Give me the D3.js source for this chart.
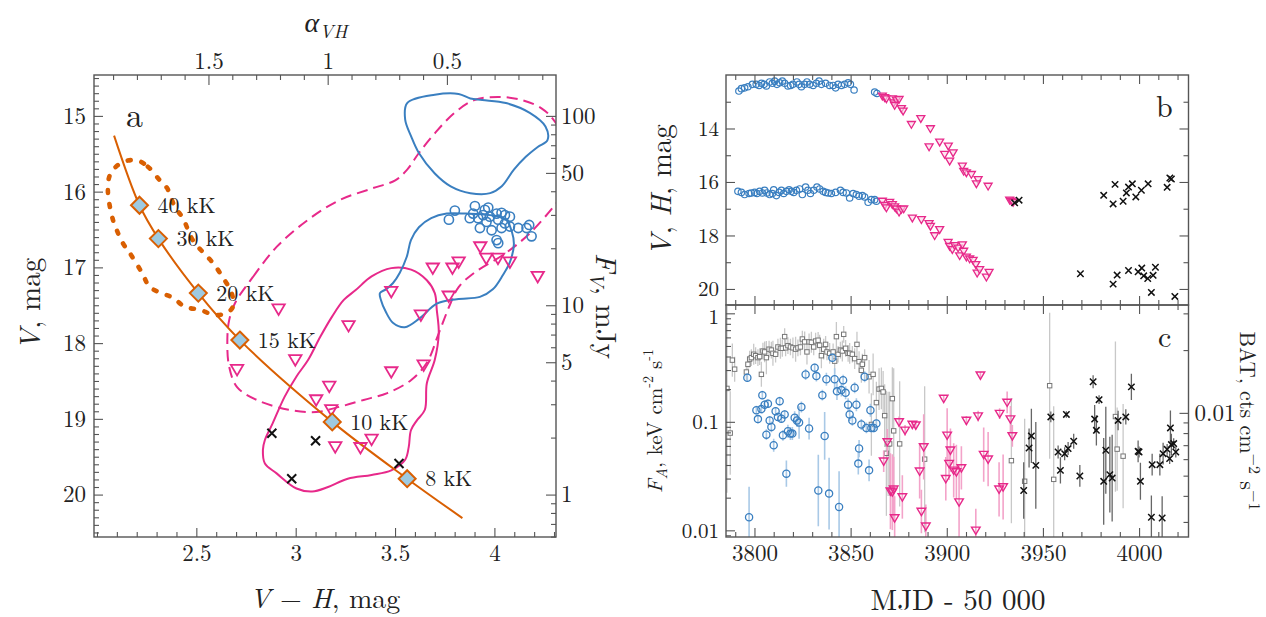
<!DOCTYPE html>
<html>
<head>
<meta charset="utf-8">
<script src="https://cdn.jsdelivr.net/npm/d3@7"></script>
<style>
  body { margin: 0; background: #fff; }
  svg text { font-family: "Latin Modern Roman", "CMU Serif", "Liberation Serif", serif; fill: #222; }
</style>
</head>
<body>
<svg id="fig" width="1266" height="617"></svg>
<script>
// ---------------- panel a : colour-magnitude diagram ----------------
var tempLabels = ["40 kK", "30 kK", "20 kK", "15 kK", "10 kK", "8 kK"];
var tempPoints = [[2.214,16.18],[2.309,16.62],[2.51,17.34],[2.719,17.96],[3.184,19.04],[3.561,19.79]];
var trackLine = [[2.086,15.26],[2.214,16.18],[2.309,16.62],[2.51,17.34],[2.719,17.96],[3.184,19.04],[3.561,19.79],[3.839,20.31]];

var ellipseDotted = [[2.206,15.59],[2.256,15.67],[2.316,15.85],[2.352,15.95],[2.392,16.20],[2.432,16.35],[2.482,16.64],
  [2.533,16.80],[2.583,16.94],[2.633,17.13],[2.678,17.34],[2.684,17.52],[2.653,17.60],[2.593,17.63],[2.518,17.56],
  [2.442,17.52],[2.382,17.40],[2.326,17.34],[2.266,17.26],[2.226,17.07],[2.165,16.81],[2.130,16.68],[2.100,16.51],
  [2.080,16.37],[2.055,16.00],[2.065,15.78],[2.105,15.65],[2.155,15.59]];

var contourDashed = [[2.695,17.47],[2.784,17.13],[2.904,16.73],[3.063,16.37],[3.222,16.11],[3.382,15.96],[3.501,15.85],
  [3.561,15.71],[3.620,15.49],[3.700,15.23],[3.799,14.96],[3.899,14.79],[4.018,14.75],[4.138,14.79],[4.237,14.90],
  [4.297,15.05],[4.380,15.45],[4.380,15.91],[4.297,16.20],[4.178,16.55],[4.058,16.81],[3.899,17.07],[3.820,17.26],
  [3.780,17.47],[3.720,17.87],[3.660,18.26],[3.580,18.49],[3.461,18.66],[3.342,18.75],[3.222,18.84],[3.103,18.91],
  [2.964,18.88],[2.804,18.75],[2.705,18.58],[2.665,18.31],[2.656,17.96],[2.665,17.70]];

var contourMagenta = [[3.481,17.01],[3.581,17.03],[3.660,17.17],[3.700,17.34],[3.710,17.56],[3.720,17.87],[3.700,18.22],
  [3.660,18.53],[3.650,18.88],[3.610,19.02],[3.580,19.15],[3.569,19.37],[3.551,19.54],[3.481,19.68],[3.382,19.74],
  [3.262,19.79],[3.163,19.90],[3.083,19.96],[3.004,19.92],[2.904,19.72],[2.845,19.59],[2.835,19.41],[2.845,19.28],
  [2.884,19.06],[2.944,18.71],[3.004,18.44],[3.063,18.22],[3.123,17.92],[3.183,17.65],[3.242,17.43],[3.302,17.30],[3.382,17.12]];

var contourBlueTop = [[3.561,14.83],[3.700,14.72],[3.820,14.71],[3.879,14.77],[3.939,14.79],[4.058,14.83],[4.178,14.96],
  [4.257,15.14],[4.267,15.32],[4.218,15.41],[4.158,15.54],[4.098,15.71],[4.037,15.93],[3.979,16.02],[3.879,16.02],
  [3.780,15.93],[3.700,15.76],[3.620,15.49],[3.581,15.27],[3.551,15.05]];

var contourBlueLow = [[3.760,16.29],[3.859,16.29],[3.979,16.31],[4.058,16.37],[4.088,16.53],[4.098,16.70],[4.078,16.93],
  [4.043,17.10],[3.992,17.29],[3.927,17.39],[3.811,17.42],[3.710,17.48],[3.625,17.67],[3.549,17.79],[3.489,17.73],
  [3.454,17.59],[3.429,17.43],[3.424,17.34],[3.454,17.29],[3.489,17.21],[3.524,17.07],[3.559,16.86],[3.580,16.64],
  [3.620,16.47],[3.682,16.35]];

var cmdCircles = [[3.801,16.25],[3.771,16.37],[3.902,16.19],[3.969,16.21],[3.876,16.35],[3.918,16.35],[3.943,16.31],
  [3.977,16.33],[4.011,16.29],[4.036,16.28],[4.053,16.31],[4.078,16.33],[4.019,16.37],[4.053,16.42],[3.927,16.48],
  [3.986,16.51],[4.036,16.48],[4.078,16.46],[4.120,16.48],[4.162,16.48],[4.175,16.44],[4.187,16.59],[4.011,16.64],
  [4.019,16.68],[3.960,16.40],[3.893,16.29],[3.952,16.24]];

var cmdTriangles = [[3.929,16.73],[3.959,16.88],[4.018,16.88],[4.078,16.93],[3.820,16.93],[3.789,17.01],[3.690,17.01],
  [4.218,17.12],[3.770,17.38],[3.481,17.32],[2.914,17.55],[3.266,17.77],[3.630,17.63],[2.998,18.22],[2.705,18.35],
  [3.481,18.38],[3.644,18.29],[3.169,18.57],[3.103,18.75],[3.179,18.88],[3.382,19.27],[3.199,19.37],[3.326,19.38]];

var cmdCrosses = [[2.88,19.19],[3.10,19.29],[2.98,19.79],[3.52,19.59]];

var vhTicks = [2.5, 3, 3.5, 4];
var vTicks = [15, 16, 17, 18, 19, 20];
var alphaTicks = [1.5, 1, 0.5];
var fluxTicks = [1, 5, 10, 50, 100];

// ---------------- panel b : light curves V and H ----------------
var hCircles = [[3791.9,12.60],[3793.2,12.51],[3794.9,12.48],[3796.6,12.44],[3798.9,12.35],[3800.9,12.35],[3802.4,12.39],
  [3803.6,12.31],[3805.0,12.35],[3806.2,12.41],[3807.9,12.26],[3809.3,12.31],[3810.5,12.23],[3811.7,12.35],[3813.1,12.29],
  [3814.5,12.23],[3815.7,12.31],[3817.4,12.41],[3818.8,12.39],[3820.0,12.35],[3822.1,12.26],[3823.2,12.35],[3824.4,12.44],
  [3826.1,12.35],[3827.3,12.26],[3828.7,12.35],[3830.5,12.39],[3832.2,12.31],[3833.6,12.23],[3834.8,12.35],[3837.0,12.31],
  [3839.1,12.39],[3840.9,12.39],[3842.2,12.48],[3843.5,12.35],[3845.2,12.39],[3846.9,12.35],[3848.7,12.29],[3849.9,12.35],
  [3851.8,12.56],[3862.5,12.64],[3863.7,12.69]];
var hTriangles = [[3866.5,12.79],[3867.7,12.85],[3868.6,12.89],[3871.7,12.89],[3872.4,13.04],[3873.8,12.94],[3875.2,12.91],
  [3872.9,13.14],[3876.4,13.26],[3877.3,13.35],[3881.6,13.85],[3886.5,13.63],[3891.5,14.01],[3890.8,14.69],[3896.3,14.51],
  [3900.8,14.66],[3898.9,14.97],[3903.3,14.91],[3901.5,15.22],[3908.1,15.41],[3908.8,15.60],[3910.2,15.66],[3912.8,15.72],
  [3916.3,15.91],[3915.4,16.07],[3921.5,16.16],[3932.7,16.68],[3933.6,16.72],[3934.5,16.76]];
var hCrosses = [[3935.3,16.78],[3937.6,16.68],[3981.6,16.50],[3987.5,16.09],[3986.5,16.82],[3991.7,16.72],[3993.4,16.41],
  [3994.5,16.19],[3996.5,16.07],[3998.3,16.56],[4001.2,16.31],[4004.7,16.07],[4014.6,16.20],[4016.0,15.85],[4016.8,15.89]];
var vCircles = [[3791.4,16.35],[3793.2,16.39],[3794.9,16.47],[3797.2,16.43],[3798.4,16.41],[3800.1,16.39],[3801.3,16.43],
  [3802.7,16.35],[3804.1,16.41],[3805.3,16.31],[3806.5,16.41],[3807.9,16.47],[3809.3,16.43],[3810.0,16.29],[3811.4,16.51],
  [3812.8,16.39],[3814.0,16.31],[3815.2,16.43],[3816.6,16.35],[3818.0,16.29],[3819.2,16.35],[3820.4,16.39],[3821.8,16.31],
  [3823.5,16.26],[3824.9,16.47],[3826.6,16.19],[3827.8,16.31],[3829.1,16.43],[3830.8,16.31],[3832.5,16.19],[3833.9,16.26],
  [3835.7,16.35],[3837.0,16.39],[3838.3,16.41],[3840.0,16.43],[3842.2,16.39],[3844.7,16.31],[3846.1,16.39],[3847.8,16.41],
  [3849.5,16.60],[3851.3,16.43],[3853.0,16.47],[3854.4,16.53],[3856.1,16.51],[3857.3,16.56],[3859.1,16.76],[3860.8,16.66],
  [3862.5,16.66],[3863.4,16.72]];
var vTriangles = [[3866.5,16.72],[3867.7,16.88],[3868.6,16.97],[3870.3,16.76],[3871.7,16.85],[3872.9,16.93],[3873.8,17.01],
  [3875.2,17.13],[3876.4,17.03],[3877.6,17.01],[3882.1,17.35],[3886.8,17.41],[3890.8,17.56],[3891.5,17.66],[3893.7,18.01],
  [3896.3,17.78],[3900.7,18.26],[3901.5,18.41],[3902.9,18.53],[3904.1,18.38],[3905.9,18.47],[3906.7,18.76],[3908.1,18.35],
  [3908.8,18.59],[3910.2,18.81],[3911.9,18.88],[3913.7,18.93],[3915.1,19.09],[3915.8,19.41],[3917.1,19.28],[3920.6,19.56],
  [3922.0,19.38]];
var vCrosses = [[3969.5,19.43],[3986.5,19.82],[3988.6,19.48],[3994.5,19.31],[3999.5,19.36],[4001.4,19.22],[4002.4,19.51],
  [4004.5,19.61],[4007.3,19.49],[4008.5,19.19],[4006.4,20.13],[4018.6,20.28]];

var mjdTicks = [3800, 3850, 3900, 3950, 4000];
var magTicks = [14, 16, 18, 20];

// ---------------- panel c : X-ray fluxes [MJD, flux, error in dex] ----------------
var batSquares = [[3785.7,0.0131,0.5],[3787.4,0.0080,0.2],[3788.5,0.0179,0.08],[3789.7,0.0162,0.06],[3795.8,0.0157,0.04],
  [3796.6,0.0171,0.04],[3797.5,0.0181,0.04],[3798.4,0.0184,0.04],[3799.6,0.0191,0.05],[3800.6,0.0188,0.04],[3801.8,0.0184,0.04],
  [3802.7,0.0186,0.04],[3803.6,0.0153,0.06],[3804.4,0.0198,0.04],[3805.3,0.0196,0.05],[3806.2,0.0184,0.08],[3807.6,0.0202,0.04],
  [3808.8,0.0200,0.04],[3809.6,0.0193,0.06],[3811.0,0.0191,0.04],[3812.2,0.0207,0.04],[3813.5,0.0204,0.05],[3814.5,0.0204,0.04],
  [3815.7,0.0232,0.04],[3816.2,0.0205,0.04],[3817.4,0.0210,0.04],[3818.7,0.0207,0.04],[3820.0,0.0205,0.05],[3821.4,0.0202,0.06],
  [3822.6,0.0205,0.04],[3823.9,0.0207,0.04],[3824.9,0.0226,0.04],[3826.1,0.0219,0.05],[3827.3,0.0196,0.06],[3828.4,0.0219,0.04],
  [3829.6,0.0218,0.05],[3830.8,0.0207,0.04],[3831.8,0.0221,0.04],[3833.1,0.0223,0.04],[3833.9,0.0211,0.05],[3834.8,0.0188,0.06],
  [3836.0,0.0202,0.05],[3837.0,0.0213,0.04],[3837.7,0.0196,0.04],[3839.1,0.0193,0.05],[3840.9,0.0196,0.04],[3841.7,0.0177,0.06],
  [3842.6,0.0232,0.07],[3843.5,0.0191,0.04],[3844.7,0.0200,0.04],[3845.7,0.0198,0.05],[3846.4,0.0238,0.04],[3847.4,0.0204,0.04],
  [3848.7,0.0193,0.04],[3849.5,0.0193,0.05],[3850.9,0.0191,0.04],[3852.1,0.0182,0.05],[3853.3,0.0213,0.06],[3854.4,0.0176,0.05],
  [3855.6,0.0160,0.06],[3856.1,0.0171,0.05],[3857.3,0.0184,0.04],[3859.6,0.0149,0.08],[3860.8,0.0088,0.15],[3861.7,0.0153,0.1],
  [3863.4,0.0112,0.1],[3864.8,0.0130,0.1],[3866.0,0.0131,0.1],[3866.9,0.0126,0.1],[3867.7,0.0097,0.15],[3868.6,0.0064,0.3],
  [3869.5,0.0071,0.25],[3870.3,0.0071,0.25],[3871.7,0.0117,0.15],[3872.4,0.0082,0.3],[3875.5,0.0071,0.3],[3888.5,0.0060,0.35],
  [3933.6,0.0059,0.3],[3940.5,0.0047,0.3],[3953.5,0.0135,0.35],[3955.6,0.0048,0.35],[3987.7,0.0096,0.36],[3988.6,0.0067,0.2],
  [3991.7,0.0062,0.25]];
var faCircles = [[3797.2,0.0132,0.28],[3796.3,0.255,0.04],[3801.0,0.128,0.04],[3801.8,0.106,0.04],[3803.6,0.131,0.04],
  [3804.1,0.176,0.04],[3805.3,0.144,0.04],[3806.2,0.0762,0.05],[3807.0,0.147,0.04],[3807.9,0.103,0.04],[3808.8,0.0898,0.05],
  [3810.0,0.0608,0.06],[3811.0,0.125,0.04],[3812.2,0.111,0.04],[3813.1,0.155,0.04],[3814.0,0.107,0.04],[3814.8,0.0751,0.05],
  [3815.7,0.117,0.04],[3816.6,0.0333,0.12],[3817.4,0.0818,0.06],[3818.7,0.0779,0.06],[3819.7,0.0779,0.06],[3820.9,0.109,0.06],
  [3822.1,0.103,0.06],[3823.2,0.0984,0.15],[3824.4,0.137,0.05],[3826.6,0.273,0.05],[3828.4,0.0867,0.1],[3831.3,0.315,0.04],
  [3832.2,0.264,0.05],[3833.2,0.0233,0.33],[3835.3,0.176,0.05],[3836.5,0.0741,0.22],[3837.4,0.247,0.06],[3838.8,0.0218,0.33],
  [3840.5,0.389,0.04],[3841.7,0.247,0.1],[3842.9,0.191,0.08],[3844.0,0.0164,0.33],[3845.2,0.196,0.06],[3846.1,0.242,0.05],
  [3847.4,0.185,0.06],[3848.7,0.144,0.06],[3849.5,0.117,0.06],[3850.9,0.103,0.05],[3852.1,0.206,0.05],[3853.0,0.144,0.06],
  [3854.4,0.0567,0.08],[3854.0,0.0412,0.1],[3855.6,0.0944,0.05],[3857.3,0.260,0.05],[3858.2,0.0879,0.05],[3859.6,0.0357,0.1],
  [3860.3,0.128,0.06],[3860.8,0.0879,0.04],[3862.0,0.0879,0.04],[3863.4,0.0964,0.04]];
var faTriangles = [[3867.2,0.0433,0.1],[3869.1,0.0653,0.12],[3870.7,0.0229,0.35],[3871.7,0.0225,0.35],[3872.4,0.0239,0.3],
  [3872.9,0.0130,0.2],[3875.2,0.0998,0.05],[3876.9,0.0203,0.2],[3878.3,0.0835,0.05],[3882.1,0.0944,0.03],[3883.9,0.0931,0.03],
  [3885.9,0.0350,0.25],[3886.8,0.0149,0.2],[3888.0,0.0587,0.3],[3889.1,0.0109,0.2],[3898.4,0.164,0.03],[3899.5,0.0299,0.2],
  [3900.2,0.0751,0.25],[3901.2,0.0412,0.15],[3901.9,0.0547,0.2],[3903.6,0.0357,0.25],[3905.0,0.0345,0.25],[3907.6,0.0376,0.2],
  [3906.4,0.0182,0.35],[3910.2,0.103,0.04],[3915.1,0.0100,0.2],[3916.3,0.113,0.05],[3917.5,0.269,0.03],[3919.2,0.0499,0.25],
  [3921.5,0.0452,0.25],[3927.2,0.0239,0.25],[3927.5,0.119,0.05],[3929.3,0.0251,0.3],[3931.4,0.151,0.1],[3933.1,0.106,0.12],
  [3934.1,0.0741,0.1]];
var faCrosses = [[3940.0,0.0233,0.26],[3942.8,0.0574,0.18],[3944.0,0.0741,0.25],[3946.3,0.0397,0.4],[3954.1,0.111,0.05],
  [3957.9,0.0527,0.06],[3959.1,0.0357,0.12],[3961.3,0.0509,0.06],[3962.2,0.117,0.03],[3963.1,0.0567,0.06],[3966.0,0.0662,0.07],
  [3969.2,0.0317,0.1],[3976.1,0.234,0.06],[3976.9,0.106,0.13],[3977.8,0.0835,0.14],[3979.2,0.160,0.04],[3981.6,0.0283,0.4],
  [3982.7,0.0547,0.4],[3984.8,0.0326,0.35],[3986.0,0.0303,0.4],[3989.1,0.103,0.09],[3993.1,0.111,0.07],[3996.0,0.210,0.12],
  [3999.5,0.0535,0.1],[4000.0,0.0527,0.05],[4000.7,0.0283,0.17],[4006.4,0.0132,0.2],[4006.8,0.0403,0.1],[4010.8,0.0403,0.1],
  [4012.0,0.0130,0.2],[4012.5,0.0509,0.1],[4014.6,0.0558,0.05],[4015.9,0.0458,0.05],[4016.3,0.0879,0.16],[4016.8,0.0617,0.1],
  [4018.0,0.0630,0.05],[4019.1,0.0527,0.05]];

var faTicks = [1, 0.1, 0.01];
var batTicks = [0.01];

// ---------------- drawing ----------------
var svg = d3.select("#fig");
var FONT = '"Latin Modern Roman", "CMU Serif", "Liberation Serif", serif';
var BLUE = "#3a7fc0", MAG = "#e7298a", ORANGE = "#d95f02", FRAME = "#555";

// panel a geometry
var A = { l: 94, r: 556, t: 75, b: 537 };
var xVH = d3.scaleLinear().domain([1.985, 4.31]).range([A.l, A.r]);
var yV = d3.scaleLinear().domain([14.46, 20.56]).range([A.t, A.b]);
// flux in mJy follows from V (5 mag per 2 decades, 100 mJy at V = 15)
function vToFlux(v) { return 100 * Math.pow(10, -(v - 15) / 2.5); }
var yFv = d3.scaleLog().domain([vToFlux(14.46), vToFlux(20.56)]).range([A.t, A.b]);
// colour index alpha_VH is linear in V-H
function vhToAlpha(c) { return 1 - (c - 3.161) / 1.2; }
var xAlpha = d3.scaleLinear().domain([vhToAlpha(1.985), vhToAlpha(4.31)]).range([A.l, A.r]);

// panels b, c geometry
var B = { l: 726, r: 1188.5, t: 75, b: 305 };
var Cp = { l: 726, r: 1188.5, t: 305, b: 537 };
var xT = d3.scaleLinear().domain([3785.2, 4025.7]).range([B.l, B.r]);
var yMag = d3.scaleLinear().domain([12, 20.6]).range([B.t, B.b]);
var yFa = d3.scaleLog().domain([0.00868, 1.193]).range([Cp.b, Cp.t]);
var yBat = d3.scaleLog().domain([0.00254, 0.0329]).range([Cp.b, Cp.t]);

function axis(gen, scale, vals, size, tx, ty, fmt, pad, fs) {
  var ax = gen(scale).tickValues(vals).tickSize(size).tickPadding(pad == null ? 7 : pad)
    .tickFormat(fmt || "");
  var g = svg.append("g").attr("transform", "translate(" + tx + "," + ty + ")").call(ax);
  g.attr("font-family", FONT).attr("font-size", fs || 23);
  g.select(".domain").remove();
  g.selectAll(".tick line").attr("stroke", FRAME).attr("stroke-width", 1.1);
  g.selectAll(".tick text").attr("fill", "#222");
  return g;
}
function minorRange(a, b, step, majors) {
  return d3.range(a, b + step / 2, step).map(function(v) { return +v.toFixed(4); })
    .filter(function(v) { return majors.indexOf(v) < 0; });
}
function logMinors(lo, hi) {
  var out = [];
  for (var e = -4; e <= 3; e++) for (var m = 1; m < 10; m++) {
    var v = +(m * Math.pow(10, e)).toPrecision(6);
    if (v >= lo && v <= hi) out.push(v);
  }
  return out;
}
var fmtNum = function(d) { return String(d); };

// symbol paths (relative to the point)
function triPath(s) { return "M" + (-s) + "," + (-s * 0.75) + "L" + s + "," + (-s * 0.75) + "L0," + (s * 0.95) + "Z"; }
function crossPath(s) { return "M" + (-s) + "," + (-s) + "L" + s + "," + s + "M" + (-s) + "," + s + "L" + s + "," + (-s); }
function diamondPath(s) { return "M0," + (-s) + "L" + s + ",0L0," + s + "L" + (-s) + ",0Z"; }

var defs = svg.append("defs");
defs.append("clipPath").attr("id", "clipA").append("rect")
  .attr("x", A.l).attr("y", A.t).attr("width", A.r - A.l).attr("height", A.b - A.t);
defs.append("clipPath").attr("id", "clipB").append("rect")
  .attr("x", B.l).attr("y", B.t).attr("width", B.r - B.l).attr("height", B.b - B.t);
defs.append("clipPath").attr("id", "clipC").append("rect")
  .attr("x", Cp.l).attr("y", Cp.t).attr("width", Cp.r - Cp.l).attr("height", Cp.b - Cp.t);

// ---------- panel a ----------
var gA = svg.append("g").attr("clip-path", "url(#clipA)");
var lineClosed = d3.line().x(function(d) { return xVH(d[0]); }).y(function(d) { return yV(d[1]); })
  .curve(d3.curveCatmullRomClosed.alpha(0.5));
var lineOpen = d3.line().x(function(d) { return xVH(d[0]); }).y(function(d) { return yV(d[1]); })
  .curve(d3.curveCatmullRom.alpha(0.5));

gA.append("path").attr("d", lineClosed(contourDashed)).attr("fill", "none").attr("stroke", MAG)
  .attr("stroke-width", 2).attr("stroke-dasharray", "11 6");
gA.append("path").attr("d", lineClosed(contourMagenta)).attr("fill", "none").attr("stroke", MAG).attr("stroke-width", 2);
gA.append("path").attr("d", lineClosed(contourBlueTop)).attr("fill", "none").attr("stroke", BLUE).attr("stroke-width", 2);
gA.append("path").attr("d", lineClosed(contourBlueLow)).attr("fill", "none").attr("stroke", BLUE).attr("stroke-width", 2);
gA.append("path").attr("d", lineClosed(ellipseDotted)).attr("fill", "none").attr("stroke", ORANGE)
  .attr("stroke-width", 4.6).attr("stroke-linecap", "round").attr("stroke-dasharray", "3 11");
gA.append("path").attr("d", lineOpen(trackLine)).attr("fill", "none").attr("stroke", ORANGE).attr("stroke-width", 2);

gA.selectAll(".cc").data(cmdCircles).enter().append("circle")
  .attr("cx", function(d) { return xVH(d[0]); }).attr("cy", function(d) { return yV(d[1]); })
  .attr("r", 4.6).attr("fill", "none").attr("stroke", BLUE).attr("stroke-width", 1.6);
gA.selectAll(".ct").data(cmdTriangles).enter().append("path")
  .attr("transform", function(d) { return "translate(" + xVH(d[0]) + "," + yV(d[1]) + ")"; })
  .attr("d", triPath(6.2)).attr("fill", "none").attr("stroke", MAG).attr("stroke-width", 1.8);
gA.selectAll(".cx").data(cmdCrosses).enter().append("path")
  .attr("transform", function(d) { return "translate(" + xVH(d[0]) + "," + yV(d[1]) + ")"; })
  .attr("d", crossPath(4.5)).attr("stroke", "#111").attr("stroke-width", 2);
gA.selectAll(".cd").data(tempPoints).enter().append("path")
  .attr("transform", function(d) { return "translate(" + xVH(d[0]) + "," + yV(d[1]) + ")"; })
  .attr("d", diamondPath(8.5)).attr("fill", "#9ecae1").attr("stroke", ORANGE).attr("stroke-width", 2);
svg.selectAll(".tl").data(tempPoints).enter().append("text")
  .attr("x", function(d) { return xVH(d[0]) + 18; }).attr("y", function(d) { return yV(d[1]); })
  .attr("dy", "0.35em").attr("font-size", 22).text(function(d, i) { return tempLabels[i]; });

// axes of panel a
axis(d3.axisBottom, xVH, vhTicks, -9, 0, A.b, fmtNum, 8);
axis(d3.axisBottom, xVH, minorRange(2.0, 4.3, 0.1, vhTicks), -5, 0, A.b);
axis(d3.axisLeft, yV, vTicks, -9, A.l, 0, fmtNum, 8);
axis(d3.axisLeft, yV, minorRange(14.5, 20.5, 0.1, vTicks), -5, A.l, 0);
axis(d3.axisTop, xAlpha, alphaTicks, -10, 0, A.t, fmtNum, 6);
axis(d3.axisTop, xAlpha, minorRange(0.1, 1.9, 0.1, alphaTicks), -5, 0, A.t);
axis(d3.axisRight, yFv, fluxTicks, -10, A.r, 0, fmtNum, 5);
axis(d3.axisRight, yFv, logMinors(0.6, 160).filter(function(v) { return fluxTicks.indexOf(v) < 0; }), -5, A.r, 0);
svg.append("rect").attr("x", A.l).attr("y", A.t).attr("width", A.r - A.l).attr("height", A.b - A.t)
  .attr("fill", "none").attr("stroke", FRAME).attr("stroke-width", 1.4);

svg.append("text").attr("x", 126).attr("y", 127).attr("font-size", 34).text("a");
var t = svg.append("text").attr("x", 326).attr("y", 32).attr("text-anchor", "middle").attr("font-size", 28);
t.append("tspan").attr("font-style", "italic").text("α");
t.append("tspan").attr("font-style", "italic").attr("font-size", 19).attr("dy", 6).text("VH");
t = svg.append("text").attr("transform", "translate(40,304) rotate(-90)").attr("text-anchor", "middle").attr("font-size", 29);
t.append("tspan").attr("font-style", "italic").text("V");
t.append("tspan").text(", mag");
t = svg.append("text").attr("x", 325).attr("y", 608).attr("text-anchor", "middle").attr("font-size", 28);
t.append("tspan").attr("font-style", "italic").text("V");
t.append("tspan").text(" \u2212 ");
t.append("tspan").attr("font-style", "italic").text("H");
t.append("tspan").text(", mag");
t = svg.append("text").attr("transform", "translate(596,306) rotate(90)").attr("text-anchor", "middle").attr("font-size", 29);
t.append("tspan").attr("font-style", "italic").text("F");
t.append("tspan").attr("font-style", "italic").attr("font-size", 20).attr("dy", 6).text("V");
t.append("tspan").attr("dy", -6).text(", mJy");

// ---------- panel b ----------
var gB = svg.append("g").attr("clip-path", "url(#clipB)");
function circlesB(data) {
  gB.selectAll(null).data(data).enter().append("circle")
    .attr("cx", function(d) { return xT(d[0]); }).attr("cy", function(d) { return yMag(d[1]); })
    .attr("r", 3.2).attr("fill", "none").attr("stroke", BLUE).attr("stroke-width", 1.2);
}
function trianglesB(data) {
  gB.selectAll(null).data(data).enter().append("path")
    .attr("transform", function(d) { return "translate(" + xT(d[0]) + "," + yMag(d[1]) + ")"; })
    .attr("d", triPath(4)).attr("fill", "#fbd3e6").attr("fill-opacity", 0.6).attr("stroke", MAG).attr("stroke-width", 1.3);
}
function crossesB(data) {
  gB.selectAll(null).data(data).enter().append("path")
    .attr("transform", function(d) { return "translate(" + xT(d[0]) + "," + yMag(d[1]) + ")"; })
    .attr("d", crossPath(3.2)).attr("stroke", "#111").attr("stroke-width", 1.5);
}
circlesB(hCircles); circlesB(vCircles);
trianglesB(hTriangles); trianglesB(vTriangles);
crossesB(hCrosses); crossesB(vCrosses);

var mjdMinor = minorRange(3790, 4020, 10, mjdTicks);
axis(d3.axisTop, xT, mjdTicks, -9, 0, B.t);
axis(d3.axisTop, xT, mjdMinor, -5, 0, B.t);
axis(d3.axisBottom, xT, mjdTicks, -9, 0, B.b);
axis(d3.axisBottom, xT, mjdMinor, -5, 0, B.b);
axis(d3.axisLeft, yMag, magTicks, -9, B.l, 0, fmtNum, 7, 21);
axis(d3.axisLeft, yMag, [13, 15, 17, 19], -5, B.l, 0);
axis(d3.axisRight, yMag, magTicks, -9, B.r, 0);
axis(d3.axisRight, yMag, [13, 15, 17, 19], -5, B.r, 0);
svg.append("rect").attr("x", B.l).attr("y", B.t).attr("width", B.r - B.l).attr("height", B.b - B.t)
  .attr("fill", "none").attr("stroke", FRAME).attr("stroke-width", 1.4);
svg.append("text").attr("x", 1156).attr("y", 117).attr("font-size", 30).text("b");
t = svg.append("text").attr("transform", "translate(671,190) rotate(-90)").attr("text-anchor", "middle").attr("font-size", 29);
t.append("tspan").attr("font-style", "italic").text("V");
t.append("tspan").text(", ");
t.append("tspan").attr("font-style", "italic").text("H");
t.append("tspan").text(", mag");

// ---------- panel c ----------
var gC = svg.append("g").attr("clip-path", "url(#clipC)");
function errBars(data, y, color, w) {
  gC.selectAll(null).data(data).enter().append("line")
    .attr("x1", function(d) { return xT(d[0]); }).attr("x2", function(d) { return xT(d[0]); })
    .attr("y1", function(d) { return y(d[1] * Math.pow(10, d[2])); })
    .attr("y2", function(d) { return y(d[1] * Math.pow(10, -d[2])); })
    .attr("stroke", color).attr("stroke-width", w);
}
errBars(batSquares, yBat, "#c8c8c8", 1.3);
gC.selectAll(null).data(batSquares).enter().append("rect")
  .attr("x", function(d) { return xT(d[0]) - 2.2; }).attr("y", function(d) { return yBat(d[1]) - 2.2; })
  .attr("width", 4.4).attr("height", 4.4).attr("fill", "#fff").attr("stroke", "#777").attr("stroke-width", 1);
errBars(faCircles, yFa, "#a9c9e6", 1.6);
gC.selectAll(null).data(faCircles).enter().append("circle")
  .attr("cx", function(d) { return xT(d[0]); }).attr("cy", function(d) { return yFa(d[1]); })
  .attr("r", 3.6).attr("fill", "none").attr("stroke", BLUE).attr("stroke-width", 1.3);
errBars(faTriangles, yFa, "#f3a3c9", 1.6);
gC.selectAll(null).data(faTriangles).enter().append("path")
  .attr("transform", function(d) { return "translate(" + xT(d[0]) + "," + yFa(d[1]) + ")"; })
  .attr("d", triPath(4.3)).attr("fill", "none").attr("stroke", MAG).attr("stroke-width", 1.4);
errBars(faCrosses, yFa, "#666", 1.3);
gC.selectAll(null).data(faCrosses).enter().append("path")
  .attr("transform", function(d) { return "translate(" + xT(d[0]) + "," + yFa(d[1]) + ")"; })
  .attr("d", crossPath(3.2)).attr("stroke", "#111").attr("stroke-width", 1.5);

axis(d3.axisTop, xT, mjdTicks, -9, 0, Cp.t);
axis(d3.axisTop, xT, mjdMinor, -5, 0, Cp.t);
axis(d3.axisBottom, xT, mjdTicks, -9, 0, Cp.b, fmtNum, 8);
axis(d3.axisBottom, xT, mjdMinor, -5, 0, Cp.b);
var faAxis = axis(d3.axisLeft, yFa, faTicks, -9, Cp.l, 0, fmtNum, 7, 21);
faAxis.selectAll(".tick text").filter(function(d) { return d === 1; }).attr("dy", "0.5em");
axis(d3.axisLeft, yFa, logMinors(0.009, 1.19).filter(function(v) { return faTicks.indexOf(v) < 0; }), -5, Cp.l, 0);
axis(d3.axisRight, yBat, batTicks, -9, Cp.r, 0, fmtNum, 6);
axis(d3.axisRight, yBat, logMinors(0.0026, 0.032).filter(function(v) { return Math.abs(v - 0.01) > 1e-9; }), -5, Cp.r, 0);
svg.append("rect").attr("x", Cp.l).attr("y", Cp.t).attr("width", Cp.r - Cp.l).attr("height", Cp.b - Cp.t)
  .attr("fill", "none").attr("stroke", FRAME).attr("stroke-width", 1.4);
svg.append("text").attr("x", 1158).attr("y", 347).attr("font-size", 30).text("c");

t = svg.append("text").attr("transform", "translate(662,421) rotate(-90)").attr("text-anchor", "middle").attr("font-size", 21);
t.append("tspan").attr("font-style", "italic").text("F");
t.append("tspan").attr("font-style", "italic").attr("font-size", 15).attr("dy", 5).text("A");
t.append("tspan").attr("dy", -5).text(", keV cm");
t.append("tspan").attr("font-size", 14).attr("dy", -9).text("-2");
t.append("tspan").attr("dy", 9).text(" s");
t.append("tspan").attr("font-size", 14).attr("dy", -9).text("-1");
t = svg.append("text").attr("transform", "translate(1240,421) rotate(90)").attr("text-anchor", "middle").attr("font-size", 22);
t.append("tspan").text("BAT, cts cm");
t.append("tspan").attr("font-size", 16).attr("dy", -9).text("\u22122");
t.append("tspan").attr("dy", 9).text(" s");
t.append("tspan").attr("font-size", 16).attr("dy", -9).text("\u22121");
svg.append("text").attr("x", 958).attr("y", 610).attr("text-anchor", "middle").attr("font-size", 29).text("MJD - 50 000");
</script>
</body>
</html>
